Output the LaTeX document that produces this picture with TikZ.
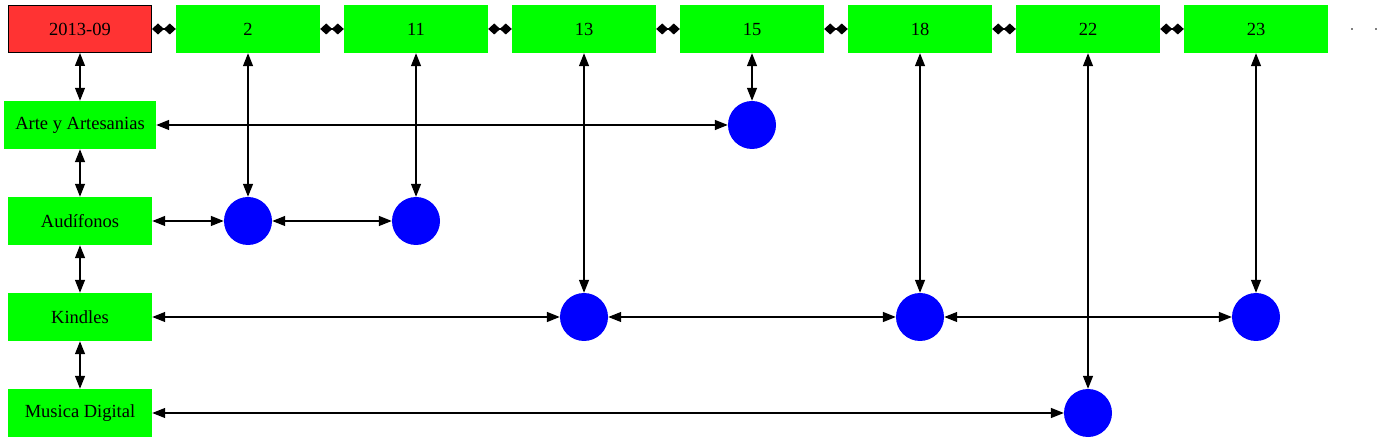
\documentclass[tikz,border=0pt]{standalone}
\usepackage{fontspec}
\setmainfont{Liberation Serif}
\usetikzlibrary{arrows.meta}
\begin{document}
\begin{tikzpicture}[x=1pt,y=-1pt,
  every node/.style={font=\fontsize{18.5}{20}\selectfont},
  gbox/.style={rectangle,fill=green,minimum width=144pt,minimum height=48pt,inner sep=0pt},
  rbox/.style={rectangle,fill={rgb,255:red,255;green,51;blue,51},draw=black,line width=1pt,minimum width=143pt,minimum height=47pt,inner sep=0pt},
  dotc/.style={circle,fill=blue,minimum size=48pt,inner sep=0pt},
  tiny/.style={rectangle,fill=gray,minimum size=1.5pt,inner sep=0pt},
  biarr/.style={line width=1.3pt,{Triangle[length=13pt,width=10pt]}-{Triangle[length=13pt,width=10pt]}},
  diarr/.style={line width=1.3pt,{Diamond[length=12pt,width=11pt]}-{Diamond[length=12pt,width=11pt]}}
]
\useasboundingbox (0,0) rectangle (1381,443);
% top row
\node[rbox] (m) at (80,29) {2013-09};
\node[gbox] (t2) at (248,29) {2};
\node[gbox] (t11) at (416,29) {11};
\node[gbox] (t13) at (584,29) {13};
\node[gbox] (t15) at (752,29) {15};
\node[gbox] (t18) at (920,29) {18};
\node[gbox] (t22) at (1088,29) {22};
\node[gbox] (t23) at (1256,29) {23};
\node[tiny] (d1) at (1352,29) {};
\node[tiny] (d2) at (1376,29) {};
% left column
\node[gbox,minimum width=152pt] (arte) at (80,125) {Arte y Artesanias};
\node[gbox] (aud) at (80,221) {Audífonos};
\node[gbox] (kin) at (80,317) {Kindles};
\node[gbox] (mus) at (80,413) {Musica Digital};
% circles
\node[dotc] (a15) at (752,125) {};
\node[dotc] (b2) at (248,221) {};
\node[dotc] (b11) at (416,221) {};
\node[dotc] (k13) at (584,317) {};
\node[dotc] (k18) at (920,317) {};
\node[dotc] (k23) at (1256,317) {};
\node[dotc] (m22) at (1088,413) {};
% top row edges
\draw[diarr] (m) -- (t2);
\draw[diarr] (t2) -- (t11);
\draw[diarr] (t11) -- (t13);
\draw[diarr] (t13) -- (t15);
\draw[diarr] (t15) -- (t18);
\draw[diarr] (t18) -- (t22);
\draw[diarr] (t22) -- (t23);
% left column edges
\draw[biarr] (m) -- (arte);
\draw[biarr] (arte) -- (aud);
\draw[biarr] (aud) -- (kin);
\draw[biarr] (kin) -- (mus);
% vertical edges
\draw[biarr] (t2) -- (b2);
\draw[biarr] (t11) -- (b11);
\draw[biarr] (t13) -- (k13);
\draw[biarr] (t15) -- (a15);
\draw[biarr] (t18) -- (k18);
\draw[biarr] (t22) -- (m22);
\draw[biarr] (t23) -- (k23);
% horizontal edges
\draw[biarr] (arte) -- (a15);
\draw[biarr] (aud) -- (b2);
\draw[biarr] (b2) -- (b11);
\draw[biarr] (kin) -- (k13);
\draw[biarr] (k13) -- (k18);
\draw[biarr] (k18) -- (k23);
\draw[biarr] (mus) -- (m22);
\end{tikzpicture}
\end{document}
